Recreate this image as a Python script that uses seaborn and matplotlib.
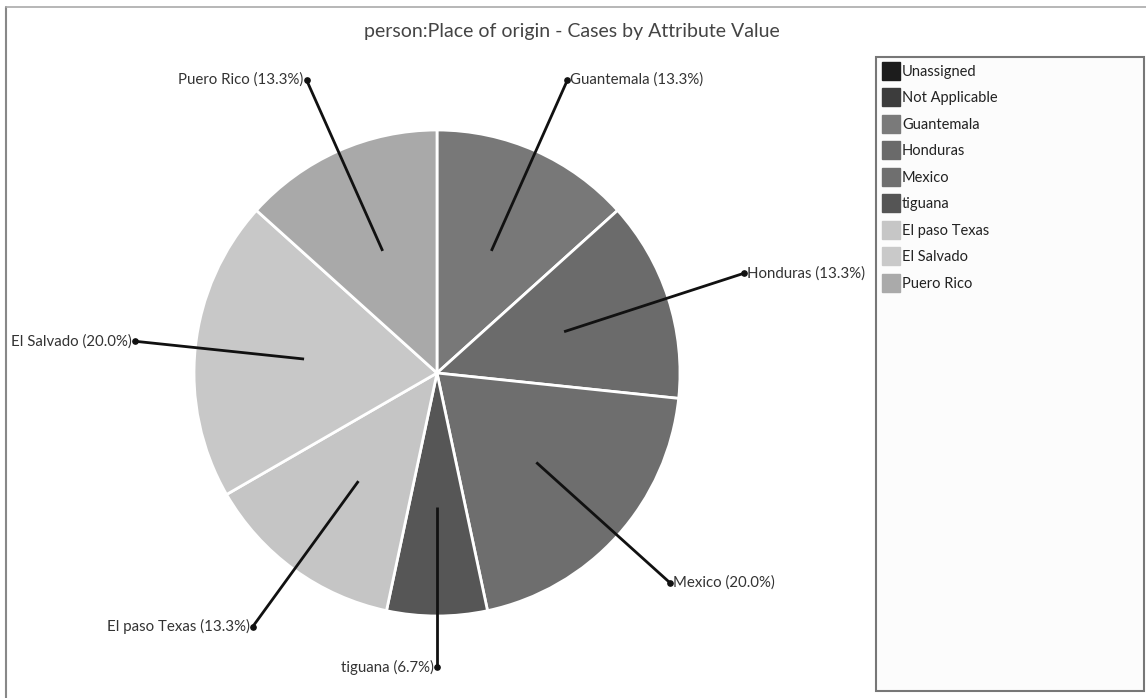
import matplotlib
matplotlib.use("Agg")
import matplotlib.pyplot as plt
import seaborn as sns
import numpy as np
from matplotlib.patches import Rectangle
from matplotlib.lines import Line2D

# ---- data ----
legend_labels = ["Unassigned", "Not Applicable", "Guantemala", "Honduras", "Mexico",
                 "tiguana", "El paso Texas", "El Salvado", "Puero Rico"]
legend_colors = ["#1c1c1c", "#3c3c3c", "#7a7a7a", "#6a6a6a", "#6f6f6f",
                 "#555555", "#c6c6c6", "#c9c9c9", "#aaaaaa"]
slice_labels = ["Guantemala", "Honduras", "Mexico", "tiguana",
                "El paso Texas", "El Salvado", "Puero Rico"]
slice_counts = [2, 2, 3, 1, 2, 3, 2]
slice_colors = ["#787878", "#6b6b6b", "#6e6e6e", "#565656",
                "#c5c5c5", "#c8c8c8", "#a9a9a9"]
title = "person:Place of origin - Cases by Attribute Value"

sns.set_theme(style="white")
plt.rcParams["font.family"] = ["Lato", "DejaVu Sans"]

W, H, DPI = 1146, 698, 100
fig = plt.figure(figsize=(W / DPI, H / DPI), dpi=DPI)
fig.patch.set_facecolor("white")

# pie geometry in pixels
cx, cy, R = 437, 373, 243
ax = fig.add_axes([0, 0, 1, 1])
wedges, _ = ax.pie(slice_counts, colors=slice_colors, startangle=90, counterclock=False,
                   radius=1.0, wedgeprops=dict(edgecolor="white", linewidth=2))
ax.set_xlim(-cx / R, (W - cx) / R)
ax.set_ylim(-(H - cy) / R, cy / R)
ax.set_aspect("auto")
ax.axis("off")

total = sum(slice_counts)
label_r = [1.32, 1.33, 1.29, 1.21, 1.29, 1.25, 1.32]
for w, lab, cnt, lr in zip(wedges, slice_labels, slice_counts, label_r):
    ang = np.deg2rad((w.theta1 + w.theta2) / 2)
    x0, y0 = 0.55 * np.cos(ang), 0.55 * np.sin(ang)
    x1, y1 = lr * np.cos(ang), lr * np.sin(ang)
    ax.plot([x0, x1], [y0, y1], color="#111111", lw=2.0, solid_capstyle="butt")
    ax.plot([x1], [y1], "o", color="#111111", ms=3.8)
    txt = f"{lab} ({cnt / total * 100:.1f}%)"
    if np.cos(ang) > 0.05:
        ax.text(x1 + 0.012, y1, txt, ha="left", va="center", fontsize=10.8, color="#333333")
    else:
        ax.text(x1 - 0.012, y1, txt, ha="right", va="center", fontsize=10.8, color="#333333")

# title
fig.text(572 / W, 1 - 31 / H, title, ha="center", va="center", fontsize=14, color="#444444")

# outer frame (left and top)
fig.add_artist(Line2D([6 / W, 6 / W], [0, 1 - 7 / H], transform=fig.transFigure,
                      color="#888888", lw=1.5))
fig.add_artist(Line2D([6 / W, 1], [1 - 7 / H, 1 - 7 / H], transform=fig.transFigure,
                      color="#aaaaaa", lw=1.2))

# legend box
lx0, ly0, lx1, ly1 = 876, 57, 1144, 691
fig.add_artist(Rectangle((lx0 / W, 1 - ly1 / H), (lx1 - lx0) / W, (ly1 - ly0) / H,
                         transform=fig.transFigure, facecolor="#fcfcfc",
                         edgecolor="#777777", lw=1.5))

handles = [Line2D([0], [0], marker="s", linestyle="none", markersize=13.5,
                  markerfacecolor=c, markeredgecolor=c) for c in legend_colors]
leg = fig.legend(handles, legend_labels, loc="upper left",
                 bbox_to_anchor=(872 / W, 1 - 53 / H), frameon=False,
                 fontsize=10.5, handlelength=1.0, handletextpad=0.25,
                 labelspacing=0.86, borderpad=0.3)
for t in leg.get_texts():
    t.set_color("#222222")

fig.savefig("out.png", dpi=DPI)
